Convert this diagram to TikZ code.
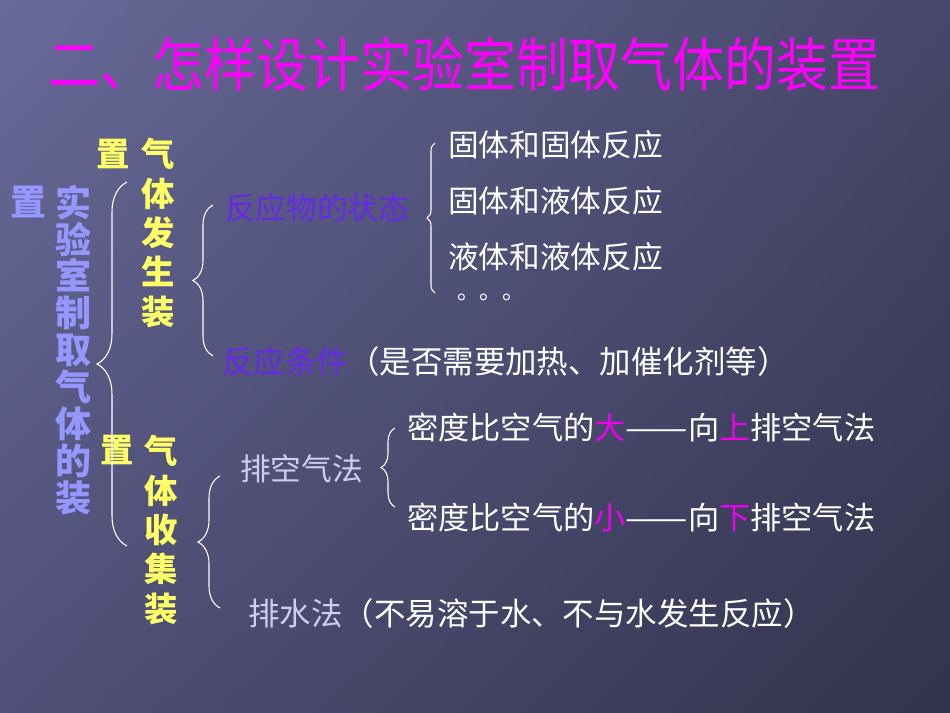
\documentclass[tikz,border=0pt]{standalone}
\usepackage{fontspec}
\setmainfont{Noto Sans CJK SC}
\usetikzlibrary{decorations.pathreplacing,shadings}
\definecolor{bgUL}{RGB}{104,106,152}
\definecolor{bgUR}{RGB}{70,71,106}
\definecolor{bgLL}{RGB}{80,80,120}
\definecolor{bgLR}{RGB}{50,51,76}
\definecolor{titlepink}{RGB}{255,0,255}
\definecolor{rpurple}{RGB}{104,40,236}
\definecolor{lavender}{RGB}{206,206,242}
\definecolor{pinkhl}{RGB}{240,0,240}
\definecolor{gold}{RGB}{255,255,102}
\definecolor{bluecol}{RGB}{150,150,255}
\newcommand{\longdash}{\resizebox{2em}{\height}{——}}
\tikzset{
  txt/.style={anchor=west, inner sep=0pt, text=white, font=\fontsize{23}{23}\selectfont},
  col/.style={align=center, inner sep=0pt, font=\bfseries\fontsize{25}{27.7}\selectfont},
  brc/.style={draw=white!90, line width=0.8pt, decorate, decoration={brace, amplitude=#1}}
}
\begin{document}
\begin{tikzpicture}[x=0.75pt, y=-0.75pt]
  % background
  \useasboundingbox (0,0) rectangle (950,713);
  \shade[upper left=bgUL, upper right=bgUR, lower left=bgLL, lower right=bgLR] (0,0) rectangle (950,713);

  % title
  \node[txt, text=titlepink, font=\fontsize{39}{39}\selectfont] (title) at (48,64) {\scalebox{1}[1.12]{二、怎样设计实验室制取气体的装置}};

  % left columns
  \node[col, text=bluecol, font=\bfseries\fontsize{27}{27.7}\selectfont] (zhi0) at (28,202) {置};
  \node[col, text=bluecol, font=\bfseries\fontsize{27}{27.7}\selectfont] (main) at (73,350) {实\\验\\室\\制\\取\\气\\体\\的\\装};
  \node[col, text=gold] (zhi1) at (113,154) {置};
  \node[col, text=gold, font=\bfseries\fontsize{25}{29.6}\selectfont] (gen) at (158,233) {气\\体\\发\\生\\装};
  \node[col, text=gold] (zhi2) at (117,450) {置};
  \node[col, text=gold, font=\bfseries\fontsize{25}{29.6}\selectfont] (coll) at (161,530) {气\\体\\收\\集\\装};

  % generation branch
  \node[txt, text=rpurple] (state) at (225,208) {反应物的状态};
  \node[txt] (ss) at (448,145) {固体和固体反应};
  \node[txt] (sl) at (448,201) {固体和液体反应};
  \node[txt] (ll) at (448,257) {液体和液体反应};
  \node[txt, font=\fontsize{17}{17}\selectfont, anchor=base west] (etc) at (457,299) {。。。};
  \node[txt, font=\fontsize{23.6}{23.6}\selectfont] (cond) at (222,362) {\textcolor{rpurple}{反应条件}（是否需要加热、加催化剂等）};

  % collection branch
  \node[txt, text=lavender] (air) at (240,469) {排空气法};
  \node[txt, font=\fontsize{23.4}{23.4}\selectfont] (up) at (407,427) {密度比空气的\textcolor{pinkhl}{大}\longdash 向\textcolor{pinkhl}{上}排空气法};
  \node[txt, font=\fontsize{23.4}{23.4}\selectfont] (down) at (407,518) {密度比空气的\textcolor{pinkhl}{小}\longdash 向\textcolor{pinkhl}{下}排空气法};
  \node[txt, font=\fontsize{23.6}{23.6}\selectfont] (water) at (248,614) {\textcolor{lavender}{排水法}（不易溶于水、不与水发生反应）};

  % braces
  \coordinate (b0t) at (127,182);
  \coordinate (b0b) at (127,546);
  \coordinate (b1t) at (213,205);
  \coordinate (b1b) at (213,356);
  \coordinate (b2t) at (435,143);
  \coordinate (b2b) at (435,293);
  \coordinate (b3t) at (220,476);
  \coordinate (b3b) at (220,608);
  \coordinate (b4t) at (395,428);
  \coordinate (b4b) at (395,507);
  \draw[brc=22.5pt] (b0b) -- (b0t);
  \draw[brc=15pt] (b1b) -- (b1t);
  \draw[brc=6pt] (b2b) -- (b2t);
  \draw[brc=16.5pt] (b3b) -- (b3t);
  \draw[brc=10.5pt] (b4b) -- (b4t);
\end{tikzpicture}
\end{document}
